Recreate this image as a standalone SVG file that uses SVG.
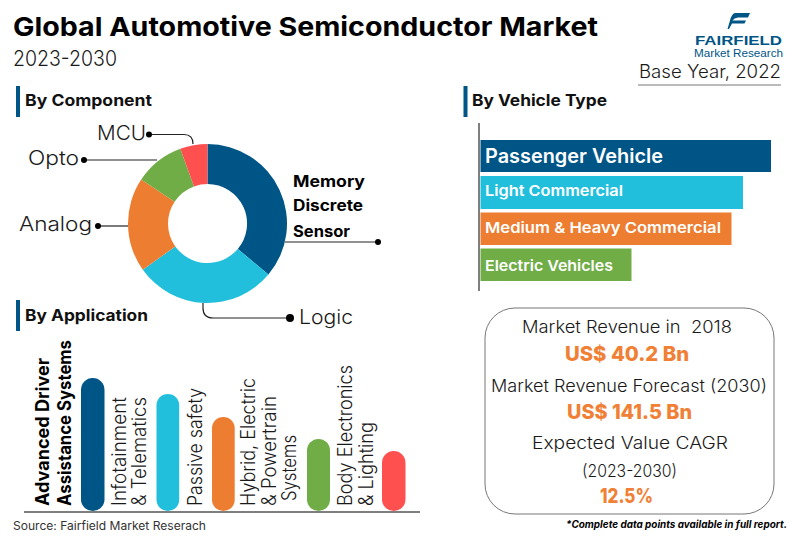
<svg xmlns="http://www.w3.org/2000/svg" width="800" height="536" viewBox="0 0 800 536">
<style>
text{font-family:Inter,Lato,"Open Sans","Liberation Sans",sans-serif;fill:#1a1a1a;font-weight:300;white-space:pre}
.b{font-weight:700;fill:#000}
.h{font-weight:700;font-size:16px;fill:#111}
.w{fill:#fff;font-weight:600;font-size:15px}
.o{fill:#F08035;font-weight:800;font-size:20px}
.m{font-size:17px}
.l{font-size:20px}
.v{font-size:19.500px}
.logo{font-family:"Liberation Sans",sans-serif;fill:#005587}
.c{fill:none;stroke:#222;stroke-width:1.2}
.d{fill:#000}
.ax{stroke:#7f7f7f;stroke-width:2}
.navy{fill:#005587}.cyan{fill:#22BFDD}.or{fill:#ED7D31}.gr{fill:#70AD47}.red{fill:#FF5050}
</style>
<g id="title">
<text class="b" x="13" y="36" font-size="26" textLength="585" lengthAdjust="spacingAndGlyphs">Global Automotive Semiconductor Market</text>
<text x="13" y="66" font-size="22" textLength="104" lengthAdjust="spacingAndGlyphs">2023-2030</text>
</g>
<g id="logo">
<path class="navy" d="M735 13H750L748 17.500H738Q734 18 732.500 20.500H746L744.500 23.500H732L729 29H727.500L730 20.500Q731.500 14 735 13Z"/>
<text class="logo" x="695" y="44.800" font-size="12.500" style="font-weight:700" textLength="87" lengthAdjust="spacingAndGlyphs">FAIRFIELD</text>
<text class="logo" x="694" y="57" font-size="10.500" style="font-weight:400" textLength="89" lengthAdjust="spacingAndGlyphs">Market Research</text>
</g>
<g id="base-year">
<text x="639" y="78" font-size="18" textLength="142" lengthAdjust="spacingAndGlyphs">Base Year, 2022</text>
<path d="M638 85H781" stroke="#777" stroke-width="1"/>
</g>
<g id="by-component">
<rect class="navy" x="16" y="86" width="4" height="31"/>
<text class="h" x="25" y="106" textLength="127" lengthAdjust="spacingAndGlyphs">By Component</text>
</g>
<g id="by-vehicle">
<rect class="navy" x="463.500" y="86" width="4" height="31"/>
<text class="h" x="472" y="106" textLength="135" lengthAdjust="spacingAndGlyphs">By Vehicle Type</text>
</g>
<g id="by-application">
<rect class="navy" x="16" y="300" width="4" height="31"/>
<text class="h" x="25" y="321" textLength="123" lengthAdjust="spacingAndGlyphs">By Application</text>
</g>
<g id="connectors">
<path class="c" d="M149 134.500H184Q193 134.500 193 144"/>
<path class="c" d="M84 160H157"/>
<path class="c" d="M98 226H128"/>
<path class="c" d="M285 242H378"/>
<path class="c" d="M203 303V308Q203 318 213 318H290"/>
<circle class="d" cx="149" cy="134.500" r="3"/>
<circle class="d" cx="84" cy="160" r="3"/>
<circle class="d" cx="98" cy="226" r="3"/>
<circle class="d" cx="378" cy="242" r="3"/>
<circle class="d" cx="290" cy="318" r="4"/>
</g>
<g id="donut">
<path class="navy" d="M207.500 144A79.500 79.500 0 0 1 268.400 274.600L237.800 248.900A39.500 39.500 0 0 0 207.500 184Z"/>
<path class="cyan" d="M268.400 274.600A79.500 79.500 0 0 1 142.800 269.700L175.300 246.400A39.500 39.500 0 0 0 237.800 248.900Z"/>
<path class="or" d="M142.800 269.700A79.500 79.500 0 0 1 141.200 179.600L174.600 201.700A39.500 39.500 0 0 0 175.300 246.400Z"/>
<path class="gr" d="M141.200 179.600A79.500 79.500 0 0 1 180.300 148.800L194 186.400A39.500 39.500 0 0 0 174.600 201.700Z"/>
<path class="red" d="M180.300 148.800A79.500 79.500 0 0 1 207.500 144V184A39.500 39.500 0 0 0 194 186.400Z"/>
</g>
<g id="donut-labels">
<text class="l" x="97" y="139.500" textLength="49" lengthAdjust="spacingAndGlyphs">MCU</text>
<text class="l" x="28" y="165" textLength="51" lengthAdjust="spacingAndGlyphs">Opto</text>
<text class="l" x="19" y="231" textLength="73" lengthAdjust="spacingAndGlyphs">Analog</text>
<text class="l" x="299" y="324" textLength="54" lengthAdjust="spacingAndGlyphs">Logic</text>
<text class="b" x="293" y="187" font-size="16" textLength="72" lengthAdjust="spacingAndGlyphs">Memory</text>
<text class="b" x="293" y="211" font-size="16" textLength="70" lengthAdjust="spacingAndGlyphs">Discrete</text>
<text class="b" x="293" y="237" font-size="16" textLength="57" lengthAdjust="spacingAndGlyphs">Sensor</text>
</g>
<g id="vehicle-bars">
<path class="ax" d="M479 123V291"/>
<rect class="navy" x="480.500" y="140" width="290.500" height="32"/>
<rect class="cyan" x="480.500" y="176" width="262.500" height="33"/>
<rect class="or" x="480.500" y="212.500" width="251" height="32.500"/>
<rect class="gr" x="480.500" y="248.500" width="151" height="32.500"/>
<text class="w" x="485" y="163" style="font-size:19.500px" textLength="178" lengthAdjust="spacingAndGlyphs">Passenger Vehicle</text>
<text class="w" x="485" y="196" textLength="138" lengthAdjust="spacingAndGlyphs">Light Commercial</text>
<text class="w" x="485" y="233" textLength="236" lengthAdjust="spacingAndGlyphs">Medium &amp; Heavy Commercial</text>
<text class="w" x="485" y="271" textLength="128" lengthAdjust="spacingAndGlyphs">Electric Vehicles</text>
</g>
<g id="application-bars">
<path class="ax" d="M24 512H420"/>
<rect class="navy" x="81" y="378" width="23.500" height="133" rx="11.700"/>
<rect class="cyan" x="156.500" y="394" width="22.700" height="117" rx="11.300"/>
<rect class="or" x="212" y="417" width="22.700" height="94" rx="11.300"/>
<rect class="gr" x="307" y="439" width="23" height="72" rx="11.500"/>
<rect class="red" x="382" y="451" width="23.500" height="60" rx="11.700"/>
<text class="b" transform="translate(49 506) rotate(-90)" font-size="18.500" textLength="148" lengthAdjust="spacingAndGlyphs">Advanced Driver</text>
<text class="b" transform="translate(71 506) rotate(-90)" font-size="18.500" textLength="166" lengthAdjust="spacingAndGlyphs">Assistance Systems</text>
<text class="v" transform="translate(125.500 506) rotate(-90)" textLength="109" lengthAdjust="spacingAndGlyphs">Infotainment</text>
<text class="v" transform="translate(146 506) rotate(-90)" textLength="109" lengthAdjust="spacingAndGlyphs">&amp; Telematics</text>
<text class="v" transform="translate(201.500 506) rotate(-90)" textLength="118" lengthAdjust="spacingAndGlyphs">Passive safety</text>
<text class="v" transform="translate(255 506) rotate(-90)" textLength="128" lengthAdjust="spacingAndGlyphs">Hybrid, Electric</text>
<text class="v" transform="translate(276 506) rotate(-90)" textLength="110" lengthAdjust="spacingAndGlyphs">&amp; Powertrain</text>
<text class="v" transform="translate(296 501) rotate(-90)" textLength="66" lengthAdjust="spacingAndGlyphs">Systems</text>
<text class="v" transform="translate(352 506) rotate(-90)" textLength="141" lengthAdjust="spacingAndGlyphs">Body Electronics</text>
<text class="v" transform="translate(373 506) rotate(-90)" textLength="84" lengthAdjust="spacingAndGlyphs">&amp; Lighting</text>
</g>
<g id="stats">
<rect x="485" y="308" width="289" height="206" rx="30" fill="none" stroke="#777" stroke-width="1"/>
<text class="m" x="522" y="333" textLength="210" lengthAdjust="spacingAndGlyphs">Market Revenue in  2018</text>
<text class="o" x="565" y="361" textLength="124" lengthAdjust="spacingAndGlyphs">US$ 40.2 Bn</text>
<text class="m" x="491" y="392" textLength="276" lengthAdjust="spacingAndGlyphs">Market Revenue Forecast (2030)</text>
<text class="o" x="567" y="419" textLength="125" lengthAdjust="spacingAndGlyphs">US$ 141.5 Bn</text>
<text class="m" x="532" y="449" textLength="196" lengthAdjust="spacingAndGlyphs">Expected Value CAGR</text>
<text class="m" x="582" y="477" textLength="95" lengthAdjust="spacingAndGlyphs">(2023-2030)</text>
<text class="o" x="600" y="503" textLength="53" lengthAdjust="spacingAndGlyphs">12.5%</text>
</g>
<g id="footer">
<text x="13" y="530" font-size="11.500" style="fill:#333;font-weight:400" textLength="193" lengthAdjust="spacingAndGlyphs">Source: Fairfield Market Reserach</text>
<text class="b" x="566" y="528" font-size="10" font-style="italic" textLength="221" lengthAdjust="spacingAndGlyphs">*Complete data points available in full report.</text>
</g>
</svg>
